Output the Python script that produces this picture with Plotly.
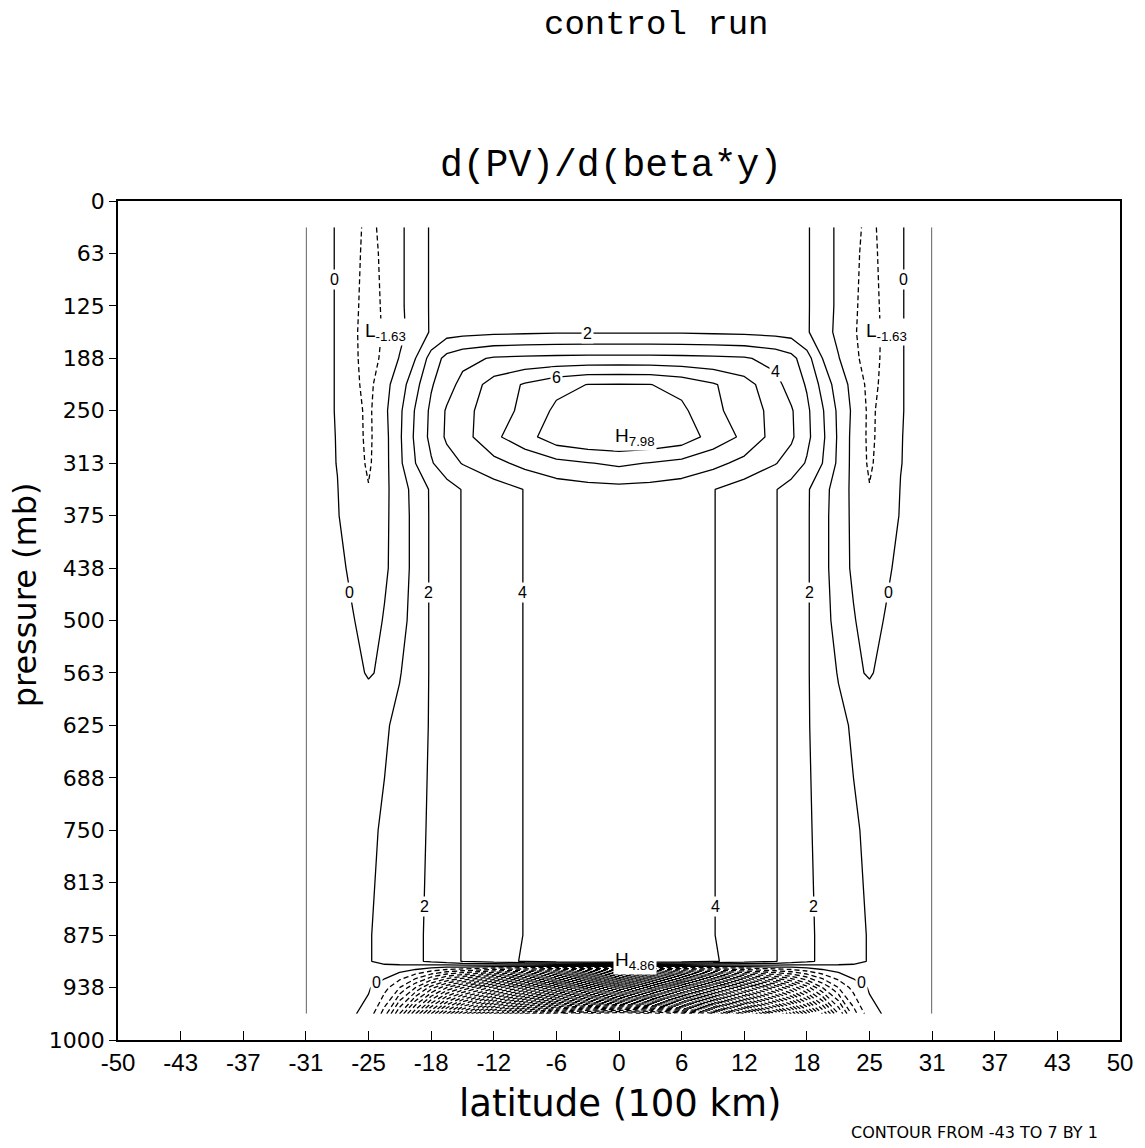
import numpy as np
import plotly.graph_objects as go

# ---------------- data ----------------
LATITUDES = [-31.25, -29.7, -28.1, -26.6, -25.0, -23.4, -21.9, -20.3, -18.75, -17.2, -15.6,
             -12.5, -9.4, -6.25, -3.1, 0.0, 3.1, 6.25, 9.4, 12.5, 15.6, 17.2, 18.75, 20.3,
             21.9, 23.4, 25.0, 26.6, 28.1, 29.7, 31.25]

PRESSURES = [31.25, 62.5, 125, 156.25, 187.5, 218.75, 250, 281.25, 312.5, 343.75, 375,
             437.5, 500, 562.5, 625, 750, 875, 906.25, 937.5, 968.75]

# d(PV)/d(beta*y), one row per pressure level, one value per latitude
DPV = [
    [0, 0.2, -0.05, -0.6, -1.3, -0.7, -0.2, 0.5, 1.1, 1.4, 1.5, 1.5, 1.5, 1.5, 1.5, 1.5, 1.5, 1.5, 1.5, 1.5, 1.5, 1.4, 1.1, 0.5, -0.2, -0.7, -1.3, -0.6, -0.05, 0.2, 0],
    [0, 0.2, -0.05, -0.6, -1.4, -0.75, -0.2, 0.5, 1.1, 1.4, 1.5, 1.5, 1.5, 1.5, 1.5, 1.5, 1.5, 1.5, 1.5, 1.5, 1.5, 1.4, 1.1, 0.5, -0.2, -0.75, -1.4, -0.6, -0.05, 0.2, 0],
    [0, 0.2, -0.05, -0.65, -1.55, -0.8, -0.2, 0.5, 1.1, 1.45, 1.55, 1.6, 1.6, 1.6, 1.6, 1.6, 1.6, 1.6, 1.6, 1.6, 1.55, 1.45, 1.1, 0.5, -0.2, -0.8, -1.55, -0.65, -0.05, 0.2, 0],
    [0, 0.2, -0.05, -0.7, -1.63, -0.85, -0.25, 0.45, 1.1, 1.6, 1.7, 1.8, 1.85, 1.9, 1.9, 1.9, 1.9, 1.9, 1.85, 1.8, 1.7, 1.6, 1.1, 0.45, -0.25, -0.85, -1.63, -0.7, -0.05, 0.2, 0],
    [0, 0.2, -0.05, -0.7, -1.55, -0.7, 0.05, 1.0, 2.4, 3.3, 3.7, 4.1, 4.2, 4.25, 4.3, 4.3, 4.3, 4.25, 4.2, 4.1, 3.7, 3.3, 2.4, 1.0, 0.05, -0.7, -1.55, -0.7, -0.05, 0.2, 0],
    [0, 0.2, -0.05, -0.75, -1.3, -0.3, 0.5, 1.7, 2.9, 3.6, 4.3, 5.4, 6.1, 6.7, 7.02, 7.05, 7.02, 6.7, 6.1, 5.4, 4.3, 3.6, 2.9, 1.7, 0.5, -0.3, -1.3, -0.75, -0.05, 0.2, 0],
    [0, 0.2, -0.05, -0.65, -1.2, -0.2, 0.8, 2.1, 3.2, 4.1, 4.7, 5.5, 6.25, 7.2, 7.75, 7.8, 7.75, 7.2, 6.25, 5.5, 4.7, 4.1, 3.2, 2.1, 0.8, -0.2, -1.2, -0.65, -0.05, 0.2, 0],
    [0, 0.2, -0.03, -0.6, -1.2, -0.3, 0.85, 2.2, 3.25, 4.15, 4.6, 5.8, 6.6, 7.6, 7.95, 7.98, 7.95, 7.6, 6.6, 5.8, 4.6, 4.15, 3.25, 2.2, 0.85, -0.3, -1.2, -0.6, -0.03, 0.2, 0],
    [0, 0.2, -0.02, -0.5, -1.15, -0.3, 0.8, 2.0, 2.9, 3.6, 4.05, 4.7, 5.3, 5.7, 5.95, 6.2, 5.95, 5.7, 5.3, 4.7, 4.05, 3.6, 2.9, 2.0, 0.8, -0.3, -1.15, -0.5, -0.02, 0.2, 0],
    [0, 0.2, 0.02, -0.45, -0.95, -0.15, 0.35, 1.5, 2.1, 2.6, 3.05, 3.55, 4.03, 4.5, 4.65, 4.7, 4.65, 4.5, 4.03, 3.55, 3.05, 2.6, 2.1, 1.5, 0.35, -0.15, -0.95, -0.45, 0.02, 0.2, 0],
    [0, 0.2, 0.05, -0.4, -0.75, -0.12, 0.3, 1.45, 2.1, 2.6, 3.05, 3.55, 4.03, 4.45, 4.55, 4.6, 4.55, 4.45, 4.03, 3.55, 3.05, 2.6, 2.1, 1.45, 0.3, -0.12, -0.75, -0.4, 0.05, 0.2, 0],
    [0, 0.2, 0.2, -0.15, -0.5, -0.1, 0.3, 1.45, 2.1, 2.6, 3.05, 3.55, 4.03, 4.45, 4.55, 4.55, 4.55, 4.45, 4.03, 3.55, 3.05, 2.6, 2.1, 1.45, 0.3, -0.1, -0.5, -0.15, 0.2, 0.2, 0],
    [0, 0.2, 0.25, 0.05, -0.3, 0.05, 0.6, 1.45, 2.1, 2.6, 3.05, 3.55, 4.03, 4.45, 4.55, 4.55, 4.55, 4.45, 4.03, 3.55, 3.05, 2.6, 2.1, 1.45, 0.6, 0.05, -0.3, 0.05, 0.25, 0.2, 0],
    [0, 0.2, 0.3, 0.25, -0.08, 0.15, 0.95, 1.45, 2.1, 2.6, 3.05, 3.55, 4.03, 4.45, 4.55, 4.55, 4.55, 4.45, 4.03, 3.55, 3.05, 2.6, 2.1, 1.45, 0.95, 0.15, -0.08, 0.25, 0.3, 0.2, 0],
    [0, 0.2, 0.35, 0.45, 0.6, 0.9, 1.2, 1.55, 2.1, 2.6, 3.05, 3.55, 4.03, 4.45, 4.55, 4.55, 4.55, 4.45, 4.03, 3.55, 3.05, 2.6, 2.1, 1.55, 1.2, 0.9, 0.6, 0.45, 0.35, 0.2, 0],
    [0, 0.2, 0.4, 0.6, 0.85, 1.1, 1.3, 1.7, 2.15, 2.6, 3.05, 3.55, 4.03, 4.45, 4.55, 4.55, 4.55, 4.45, 4.03, 3.55, 3.05, 2.6, 2.15, 1.7, 1.3, 1.1, 0.85, 0.6, 0.4, 0.2, 0],
    [0, 0.2, 0.45, 0.75, 0.95, 1.2, 1.45, 1.8, 2.2, 2.6, 3.05, 3.55, 4.03, 4.45, 4.55, 4.55, 4.55, 4.45, 4.03, 3.55, 3.05, 2.6, 2.2, 1.8, 1.45, 1.2, 0.95, 0.75, 0.45, 0.2, 0],
    [0, 0.2, 0.45, 0.75, 0.95, 1.2, 1.45, 1.8, 2.2, 2.6, 3.05, 3.6, 4.1, 4.6, 4.8, 4.86, 4.8, 4.6, 4.1, 3.6, 3.05, 2.6, 2.2, 1.8, 1.45, 1.2, 0.95, 0.75, 0.45, 0.2, 0],
    [0, 0.2, 0.25, 0.3, 0.1, -0.6, -2.0, -4.0, -6.5, -9.0, -11.0, -14.5, -17.0, -19.0, -20.0, -20.5, -20.0, -19.0, -17.0, -14.5, -11.0, -9.0, -6.5, -4.0, -2.0, -0.6, 0.1, 0.3, 0.25, 0.2, 0],
    [0, 0.1, 0.15, 0.1, -0.3, -2.5, -6.0, -10.0, -14.0, -18.0, -22.0, -29.0, -35.0, -39.5, -42.0, -43.0, -42.0, -39.5, -35.0, -29.0, -22.0, -18.0, -14.0, -10.0, -6.0, -2.5, -0.3, 0.1, 0.15, 0.1, 0],
]

LAT_TICKS = [-50, -43.75, -37.5, -31.25, -25, -18.75, -12.5, -6.25, 0, 6.25, 12.5, 18.75,
             25, 31.25, 37.5, 43.75, 50]
LAT_TICK_LABELS = ["-50", "-43", "-37", "-31", "-25", "-18", "-12", "-6", "0", "6", "12", "18",
                   "25", "31", "37", "43", "50"]
P_TICKS = [0, 62.5, 125, 187.5, 250, 312.5, 375, 437.5, 500, 562.5, 625, 687.5, 750, 812.5,
           875, 937.5, 1000]
P_TICK_LABELS = ["0", "63", "125", "188", "250", "313", "375", "438", "500", "563", "625",
                 "688", "750", "813", "875", "938", "1000"]

CONTOUR_MIN, CONTOUR_MAX, CONTOUR_STEP = -43, 7, 1

# where contour-value labels sit: (search direction, level, fixed coord, window lo, window hi)
LABEL_SPOTS = [
    ("h", 0, 94, -30, -26), ("h", 0, 94, 26, 30),
    ("v", 2, -3.1, 130, 200), ("v", 6, -6.25, 190, 240), ("v", 4, 15.6, 180, 240),
    ("h", 0, 467, -28, -24), ("h", 2, 467, -21, -17), ("h", 4, 467, -12, -8),
    ("h", 2, 467, 17, 21), ("h", 0, 467, 24, 28),
    ("h", 2, 841, -21, -17), ("h", 4, 841, 8, 12), ("h", 2, 841, 17, 21),
    ("h", 0, 932, -27, -22), ("h", 0, 932, 22, 27),
]

# ---------------- figure ----------------
z = np.array(DPV, dtype=float)
lat = np.array(LATITUDES)
pres = np.array(PRESSURES)

black = [[0, "black"], [1, "black"]]
common = dict(x=LATITUDES, y=PRESSURES, z=DPV, showscale=False, colorscale=black,
              hoverinfo="skip", autocontour=False)

fig = go.Figure()
fig.add_trace(go.Contour(**common,
                         contours=dict(start=CONTOUR_MIN, end=-1, size=CONTOUR_STEP,
                                       coloring="lines", showlabels=False),
                         line=dict(width=1.3, dash="5px,3px", smoothing=0)))
fig.add_trace(go.Contour(**common,
                         contours=dict(start=0, end=CONTOUR_MAX, size=CONTOUR_STEP,
                                       coloring="lines", showlabels=False),
                         line=dict(width=1.3, smoothing=0)))


def crossing(xs, vals, level, lo, hi):
    for k in range(len(xs) - 1):
        a, b = vals[k] - level, vals[k + 1] - level
        if (a <= 0 < b) or (b <= 0 < a):
            xc = xs[k] + (level - vals[k]) * (xs[k + 1] - xs[k]) / (vals[k + 1] - vals[k])
            if lo <= xc <= hi:
                return xc
    return None


annots = []
label_font = dict(family="Liberation Sans", size=16, color="black")
for mode, level, fixed, lo, hi in LABEL_SPOTS:
    if mode == "h":
        vals = np.array([np.interp(fixed, pres, z[:, j]) for j in range(len(lat))])
        xc = crossing(lat, vals, level, lo, hi)
        if xc is None:
            continue
        px, py = xc, fixed
    else:
        vals = np.array([np.interp(fixed, lat, z[i, :]) for i in range(len(pres))])
        yc = crossing(pres, vals, level, lo, hi)
        if yc is None:
            continue
        px, py = fixed, yc
    annots.append(dict(x=px, y=py, xref="x", yref="y", text=str(level), showarrow=False,
                       xanchor="center", yanchor="middle", bgcolor="white", borderpad=1,
                       font=label_font))


def hl_label(letter, i, j):
    return dict(x=lat[j], y=pres[i], xref="x", yref="y",
                text=f"{letter}<sub>{z[i, j]:.2f}</sub>", showarrow=False,
                xanchor="left", yanchor="middle", xshift=-6, bgcolor="white",
                font=dict(family="Liberation Sans", size=19, color="black"))


i_max, j_max = np.unravel_index(np.argmax(z), z.shape)
annots.append(hl_label("H", i_max, j_max))

low_rows = np.where(pres > 850)[0]
sub = z[low_rows]
ii, jj = np.unravel_index(np.argmax(sub), sub.shape)
annots.append(hl_label("H", low_rows[ii], jj))

upper_rows = np.where(pres < 400)[0]
for side in (lat < 0, lat > 0):
    cols = np.where(side)[0]
    sub = z[np.ix_(upper_rows, cols)]
    ii, jj = np.unravel_index(np.argmin(sub), sub.shape)
    annots.append(hl_label("L", upper_rows[ii], cols[jj]))

annots += [
    dict(text="control run", x=0.537, y=1.2098, xref="paper", yref="paper",
         showarrow=False, xanchor="center", yanchor="middle",
         font=dict(family="Liberation Mono", size=34, color="black")),
    dict(text="d(PV)/d(beta*y)", x=0.492, y=1.0429, xref="paper", yref="paper",
         showarrow=False, xanchor="center", yanchor="middle",
         font=dict(family="Liberation Mono", size=38, color="black")),
    dict(text="pressure (mb)", x=-0.0928, y=0.530, xref="paper", yref="paper",
         showarrow=False, xanchor="center", yanchor="middle", textangle=-90,
         font=dict(family="DejaVu Sans", size=32, color="black")),
    dict(text="latitude (100 km)", x=0.501, y=-0.0751, xref="paper", yref="paper",
         showarrow=False, xanchor="center", yanchor="middle",
         font=dict(family="DejaVu Sans", size=37, color="black")),
    dict(text=f"CONTOUR FROM {CONTOUR_MIN} TO {CONTOUR_MAX} BY {CONTOUR_STEP}",
         x=0.980, y=-0.1108, xref="paper", yref="paper", showarrow=False,
         xanchor="right", yanchor="middle",
         font=dict(family="DejaVu Sans", size=16, color="black")),
]

fig.update_layout(
    width=1145, height=1148,
    margin=dict(l=118, r=25, t=201, b=108),
    paper_bgcolor="white", plot_bgcolor="white",
    showlegend=False,
    annotations=annots,
    xaxis=dict(range=[-50, 50], tickmode="array", tickvals=LAT_TICKS, ticktext=LAT_TICK_LABELS,
               ticks="inside", ticklen=9, tickcolor="black", tickwidth=1,
               showline=True, mirror=True, linecolor="black", linewidth=1.5,
               showgrid=False, zeroline=False,
               tickfont=dict(family="Liberation Sans", size=24, color="black")),
    yaxis=dict(range=[1000, 0], tickmode="array", tickvals=P_TICKS, ticktext=P_TICK_LABELS,
               ticks="outside", ticklen=7, tickcolor="black", tickwidth=1,
               showline=True, mirror=True, linecolor="black", linewidth=1.5,
               showgrid=False, zeroline=False,
               tickfont=dict(family="DejaVu Sans", size=22, color="black")),
)

fig.write_html("out.html")
